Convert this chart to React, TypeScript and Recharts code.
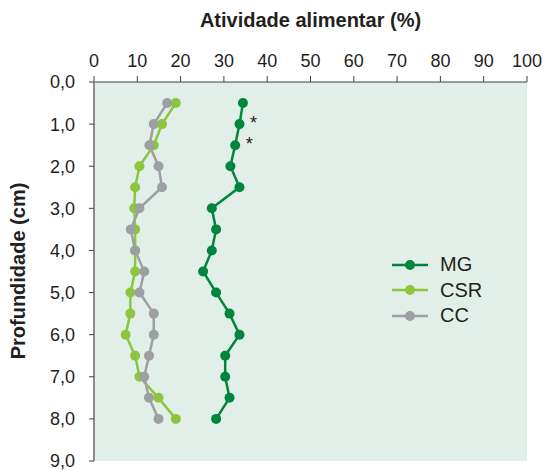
import React from "react";
import {
  LineChart,
  Line,
  XAxis,
  YAxis,
  CartesianGrid,
  LabelList,
} from "recharts";

// Sampled depths (cm) and feeding activity (%) per treatment
const depths = [0.5, 1.0, 1.5, 2.0, 2.5, 3.0, 3.5, 4.0, 4.5, 5.0, 5.5, 6.0, 6.5, 7.0, 7.5, 8.0];
const mg = [34.4, 33.6, 32.6, 31.5, 33.6, 27.2, 28.2, 27.2, 25.2, 28.2, 31.3, 33.6, 30.3, 30.3, 31.3, 28.2];
const csr = [18.9, 15.7, 13.8, 10.5, 9.5, 9.3, 9.5, 9.5, 9.5, 8.4, 8.4, 7.3, 9.5, 10.5, 14.9, 18.9];
const cc = [16.9, 13.8, 12.8, 14.9, 15.7, 10.5, 8.5, 9.5, 11.6, 10.5, 13.8, 13.8, 12.7, 11.6, 12.7, 14.9];

// depths where MG differs significantly
const mgStarred = [1.0, 1.5];

const xTicks = [0, 10, 20, 30, 40, 50, 60, 70, 80, 90, 100];
const yTicks = [0, 1, 2, 3, 4, 5, 6, 7, 8, 9];

const series = [
  { key: "MG", color: "#00853f" },
  { key: "CSR", color: "#8cc63f" },
  { key: "CC", color: "#9d9fa2" },
];

const data = depths.map((d, i) => ({
  depth: d,
  MG: mg[i],
  CSR: csr[i],
  CC: cc[i],
}));

const FONT = "'Liberation Sans', Arial, Helvetica, sans-serif";

const colorOf = (k: string) => series.find((s) => s.key === k)!.color;

const StarLabel = (props: any) => {
  const { x, y, index } = props;
  if (!mgStarred.includes(depths[index])) return null;
  return (
    <text
      x={x + 14}
      y={y + 5}
      textAnchor="middle"
      fontSize={18}
      fontFamily={FONT}
      fill="#231f20"
    >
      *
    </text>
  );
};

const LegendBox = () => (
  <div
    style={{
      position: "absolute",
      left: 392,
      top: 252,
      fontFamily: FONT,
      fontSize: 20,
      color: "#231f20",
    }}
  >
    {series.map((s) => (
      <div
        key={s.key}
        style={{ display: "flex", alignItems: "center", height: 25.5 }}
      >
        <svg width={44} height={14}>
          <line x1={0} y1={7} x2={36} y2={7} stroke={s.color} strokeWidth={2.5} />
          <circle cx={18} cy={7} r={5} fill={s.color} />
        </svg>
        <span style={{ marginLeft: 4 }}>{s.key}</span>
      </div>
    ))}
  </div>
);

const App: React.FC = () => {
  return (
    <div style={{ position: "absolute", left: 0, top: 0, width: 546, height: 470 }}>
      {/* Axis titles */}
      <div
        style={{
          position: "absolute",
          left: 94,
          width: 433,
          top: 8,
          textAlign: "center",
          fontFamily: FONT,
          fontWeight: 700,
          fontSize: 20,
          color: "#231f20",
          lineHeight: "24px",
        }}
      >
        Atividade alimentar (%)
      </div>
      <div
        style={{
          position: "absolute",
          left: 18,
          top: 271,
          transform: "translate(-50%, -50%) rotate(-90deg)",
          whiteSpace: "nowrap",
          fontFamily: FONT,
          fontWeight: 700,
          fontSize: 20,
          color: "#231f20",
          lineHeight: "24px",
        }}
      >
        Profundidade (cm)
      </div>

      <LineChart
        width={546}
        height={470}
        data={data}
        layout="vertical"
        margin={{ top: 0, right: 19, bottom: 9, left: 0 }}
      >
        <CartesianGrid fill="#e2efe8" stroke="none" />
        <XAxis
          type="number"
          orientation="top"
          domain={[0, 100]}
          ticks={xTicks}
          interval={0}
          height={82}
          tickSize={6}
          tickMargin={9}
          axisLine={{ stroke: "#414042", strokeWidth: 1.2 }}
          tickLine={{ stroke: "#414042" }}
          tick={{ fill: "#231f20", fontSize: 18, fontFamily: FONT }}
        />
        <YAxis
          type="number"
          dataKey="depth"
          domain={[0, 9]}
          ticks={yTicks}
          interval={0}
          width={94}
          tickSize={5}
          tickMargin={14}
          tickFormatter={(v: number) => v.toFixed(1).replace(".", ",")}
          axisLine={{ stroke: "#808285", strokeWidth: 1.8 }}
          tickLine={{ stroke: "#414042" }}
          tick={{ fill: "#231f20", fontSize: 18, fontFamily: FONT }}
        />
        <Line
          dataKey="CSR"
          stroke={colorOf("CSR")}
          strokeWidth={2.5}
          dot={{ r: 5, fill: colorOf("CSR"), stroke: "none" }}
          isAnimationActive={false}
        />
        <Line
          dataKey="CC"
          stroke={colorOf("CC")}
          strokeWidth={2.5}
          dot={{ r: 5, fill: colorOf("CC"), stroke: "none" }}
          isAnimationActive={false}
        />
        <Line
          dataKey="MG"
          stroke={colorOf("MG")}
          strokeWidth={2.5}
          dot={{ r: 5, fill: colorOf("MG"), stroke: "none" }}
          isAnimationActive={false}
        >
          <LabelList dataKey="MG" content={<StarLabel />} />
        </Line>
      </LineChart>
      <LegendBox />
    </div>
  );
};

export default App;
